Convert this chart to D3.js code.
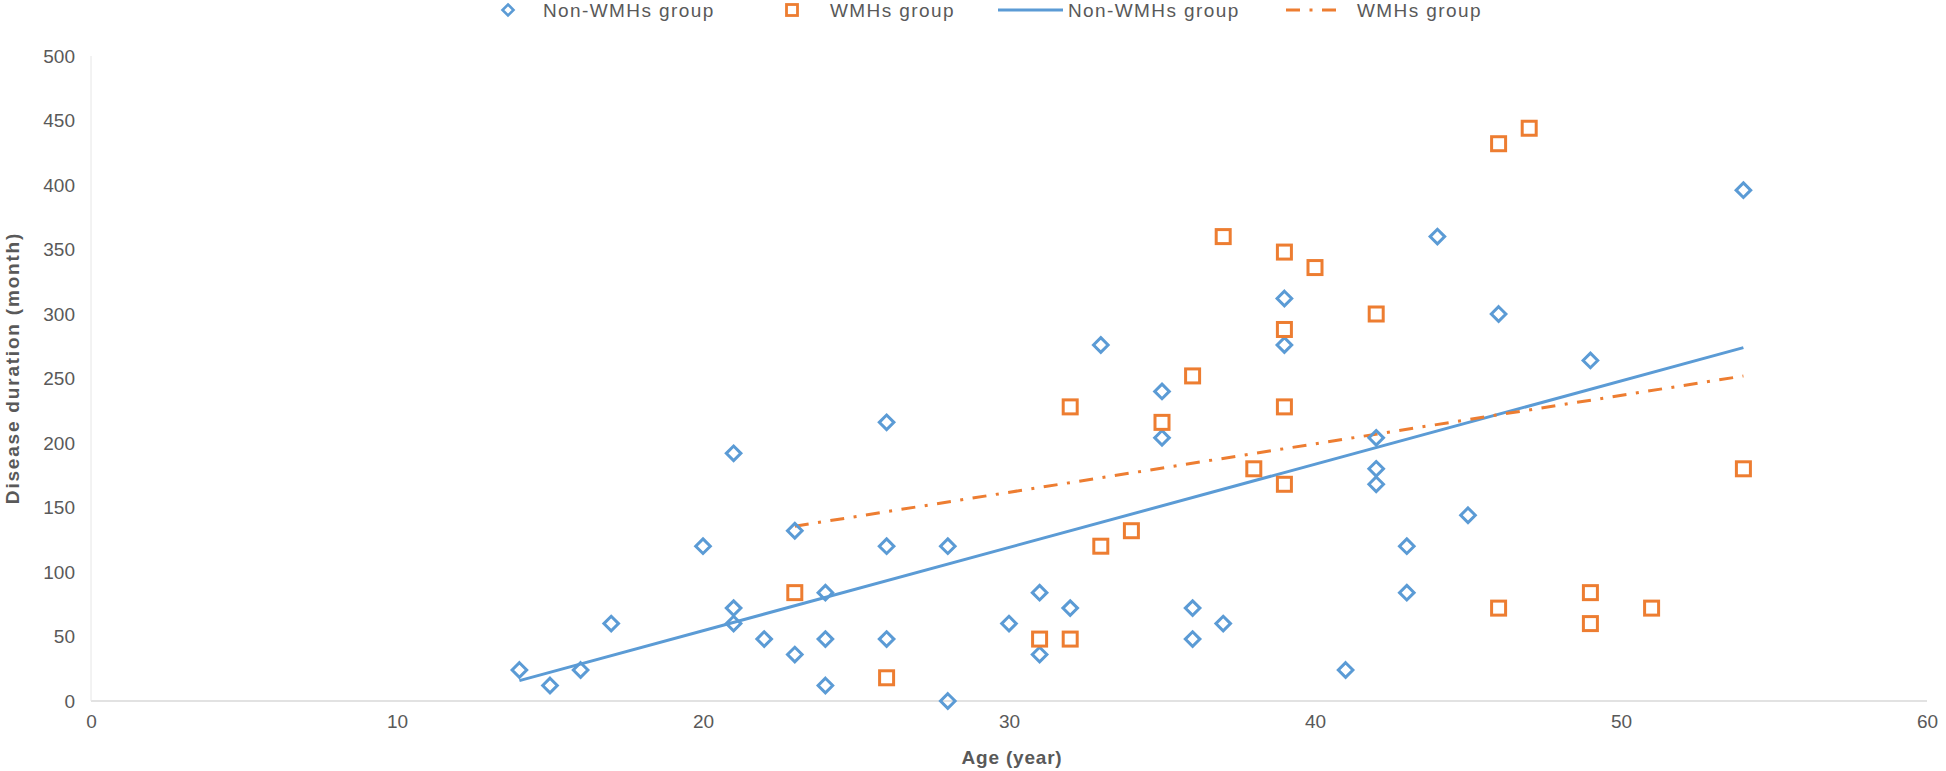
<!DOCTYPE html>
<html><head><meta charset="utf-8">
<script src="https://cdn.jsdelivr.net/npm/d3@7"></script>
<style>body{margin:0;background:#fff;} svg{display:block;}</style>
</head><body>
<svg id="c" width="1946" height="771"></svg>
<script>
// Non-WMHs group: age (year) and disease duration (month)
const nonAge = [14,15,16,17,20,21,21,21,22,23,23,24,24,24,26,26,26,28,28,30,31,31,32,33,35,35,36,36,37,39,39,41,42,42,42,43,43,44,45,46,49,54];
const nonDur = [24,12,24,60,120,192,72,60,48,132,36,84,48,12,216,120,48,120,0,60,84,36,72,276,240,204,72,48,60,312,276,24,204,180,168,120,84,360,144,300,264,396];
// WMHs group
const wmhAge = [23,26,31,32,32,33,34,35,36,37,38,39,39,39,39,40,42,46,47,46,49,49,51,54];
const wmhDur = [84,18,48,48,228,120,132,216,252,360,180,348,288,228,168,336,300,432,444,72,84,60,72,180];
const xTicks = [0,10,20,30,40,50,60];
const yTicks = [0,50,100,150,200,250,300,350,400,450,500];
const legendLabels = ["Non-WMHs group","WMHs group","Non-WMHs group","WMHs group"];

const blue = "#5B9BD5", orange = "#ED7D31", txt = "#595959";
const font = "'Liberation Sans', Arial, sans-serif";
const dashdot = "14,9.5,3,9.5";
const svg = d3.select("#c");
const x = d3.scaleLinear().domain([0,60]).range([91,1927]);
const y = d3.scaleLinear().domain([0,500]).range([701,56]);

// axes lines
svg.append("line").attr("x1",x(0)).attr("x2",x(60)).attr("y1",y(0)).attr("y2",y(0)).attr("stroke","#d9d9d9").attr("stroke-width",1.5);
svg.append("line").attr("x1",x(0)).attr("x2",x(0)).attr("y1",y(0)).attr("y2",y(500)).attr("stroke","#e6e6e6").attr("stroke-width",1);

const xAxis = d3.axisBottom(x).tickValues(xTicks).tickSize(0).tickPadding(14);
const gx = svg.append("g").attr("transform",`translate(0,${y(0)})`).call(xAxis);
gx.select(".domain").remove();
gx.selectAll("text").attr("fill",txt).style("font-family",font).style("font-size","19px");

const yAxis = d3.axisLeft(y).tickValues(yTicks).tickSize(0).tickPadding(16);
const gy = svg.append("g").attr("transform",`translate(${x(0)},0)`).call(yAxis);
gy.select(".domain").remove();
gy.selectAll("text").attr("fill",txt).style("font-family",font).style("font-size","19px");

// titles
svg.append("text").attr("x",1012).attr("y",764).attr("text-anchor","middle").attr("fill",txt)
  .style("font-family",font).style("font-size","19px").style("font-weight","bold").style("letter-spacing","0.8px").text("Age (year)");
svg.append("text").attr("transform","translate(19,368) rotate(-90)").attr("text-anchor","middle").attr("fill",txt)
  .style("font-family",font).style("font-size","19px").style("font-weight","bold").style("letter-spacing","1.8px").text("Disease duration (month)");

// regression
function reg(xs, ys){
  const mx = d3.mean(xs), my = d3.mean(ys);
  let sxy=0,sxx=0; xs.forEach((v,i)=>{sxy+=(v-mx)*(ys[i]-my); sxx+=(v-mx)*(v-mx);});
  const b = sxy/sxx, a = my-b*mx;
  const x0 = d3.min(xs), x1 = d3.max(xs);
  return [[x0,a+b*x0],[x1,a+b*x1]];
}
const line = d3.line().x(d=>x(d[0])).y(d=>y(d[1]));
svg.append("path").attr("d",line(reg(nonAge,nonDur))).attr("fill","none").attr("stroke",blue).attr("stroke-width",3);
svg.append("path").attr("d",line(reg(wmhAge,wmhDur))).attr("fill","none").attr("stroke",orange).attr("stroke-width",3)
  .attr("stroke-dasharray",dashdot);

// markers
const diamond = (cx,cy,r)=>`M${cx},${cy-r}L${cx+r},${cy}L${cx},${cy+r}L${cx-r},${cy}Z`;
svg.append("g").selectAll("path").data(nonAge.map((a,i)=>[a,nonDur[i]])).join("path")
  .attr("d",d=>diamond(x(d[0]),y(d[1]),7.3)).attr("fill","none").attr("stroke",blue).attr("stroke-width",3);
svg.append("g").selectAll("rect").data(wmhAge.map((a,i)=>[a,wmhDur[i]])).join("rect")
  .attr("x",d=>x(d[0])-7).attr("y",d=>y(d[1])-7).attr("width",14).attr("height",14)
  .attr("fill","none").attr("stroke",orange).attr("stroke-width",3);

// legend
const ly = 10;
const lg = svg.append("g");
lg.append("path").attr("d",diamond(508,ly,5.5)).attr("fill","none").attr("stroke",blue).attr("stroke-width",2.6);
lg.append("rect").attr("x",786.5).attr("y",ly-5.5).attr("width",11).attr("height",11).attr("fill","none").attr("stroke",orange).attr("stroke-width",2.8);
lg.append("line").attr("x1",998).attr("x2",1063).attr("y1",ly).attr("y2",ly).attr("stroke",blue).attr("stroke-width",3);
lg.append("line").attr("x1",1286).attr("x2",1338).attr("y1",ly).attr("y2",ly).attr("stroke",orange).attr("stroke-width",3).attr("stroke-dasharray",dashdot);
const lx = [543,830,1068,1357];
lg.selectAll("text").data(legendLabels).join("text").attr("x",(d,i)=>lx[i]).attr("y",17).attr("fill",txt)
  .style("font-family",font).style("font-size","19px").style("letter-spacing","1.4px").text(d=>d);
</script>
</body></html>
